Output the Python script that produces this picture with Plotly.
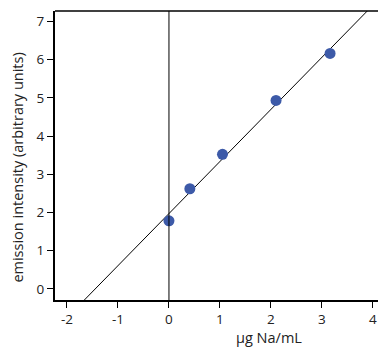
import numpy as np
import plotly.graph_objects as go

# data: standard additions
conc_added = [0.0, 0.41, 1.05, 2.10, 3.16]      # µg Na/mL
emission = [1.78, 2.62, 3.52, 4.93, 6.16]       # arbitrary units

x_ticks = [-2, -1, 0, 1, 2, 3, 4]
x_ticktext = ["-2", "-1", "0", "1", "2", "3", "4"]
y_ticks = [0, 1, 2, 3, 4, 5, 6, 7]
y_ticktext = ["0", "1", "2", "3", "4", "5", "6", "7"]

x_title = "µg Na/mL"
y_title = "emission intensity (arbitrary units)"

x_range = [-2.235, 4.1]
y_range = [-0.29, 7.27]

slope, intercept = np.polyfit(conc_added, emission, 1)
fit_x = np.array([x_range[0] - 0.5, x_range[1] + 0.5])
fit_y = slope * fit_x + intercept

font_family = "Open Sans, Lato, sans-serif"

fig = go.Figure()
fig.add_trace(go.Scatter(x=fit_x, y=fit_y, mode="lines",
                         line=dict(color="black", width=1), hoverinfo="skip",
                         showlegend=False))
fig.add_trace(go.Scatter(x=conc_added, y=emission, mode="markers",
                         marker=dict(color="#3d5aa8", size=11), showlegend=False))

# vertical line at x = 0
fig.add_shape(type="line", xref="x", yref="paper", x0=0, x1=0, y0=0, y1=1,
              line=dict(color="black", width=1))
# top frame line
fig.add_shape(type="line", xref="paper", yref="paper", x0=0, x1=1, y0=1, y1=1,
              line=dict(color="black", width=1.5))

# axis titles (off-centre in the reference)
fig.add_annotation(text=x_title, xref="paper", yref="paper", x=0.664, y=-0.13,
                   xanchor="center", yanchor="middle", showarrow=False,
                   font=dict(size=14.5, color="#222"))
fig.add_annotation(text=y_title, xref="paper", yref="paper", x=-0.1146, y=0.458,
                   xanchor="center", yanchor="middle", textangle=-90,
                   showarrow=False, font=dict(size=14.5, color="#222"))

fig.update_layout(
    width=380, height=347,
    margin=dict(l=55, r=2, t=11, b=47),
    paper_bgcolor="white", plot_bgcolor="white",
    font=dict(family=font_family, size=13, color="#222"),
    xaxis=dict(range=x_range, tickvals=x_ticks, ticktext=x_ticktext,
               automargin=False, ticklabeloverflow="allow",
               showgrid=False, zeroline=False, showline=True, linecolor="black",
               linewidth=1.5, ticks="outside", ticklen=6, tickcolor="black",
               tickfont=dict(size=13.5)),
    yaxis=dict(range=y_range, tickvals=y_ticks, ticktext=y_ticktext,
               automargin=False,
               showgrid=False, zeroline=False, showline=True, linecolor="black",
               linewidth=2, ticks="outside", ticklen=6, tickcolor="black",
               tickfont=dict(size=13.5)),
)

# remove the browser's default 8px page margin so the figure fills the window
fig.write_html("out.html", config={"displayModeBar": False},
               post_script="document.body.style.margin='0';")
